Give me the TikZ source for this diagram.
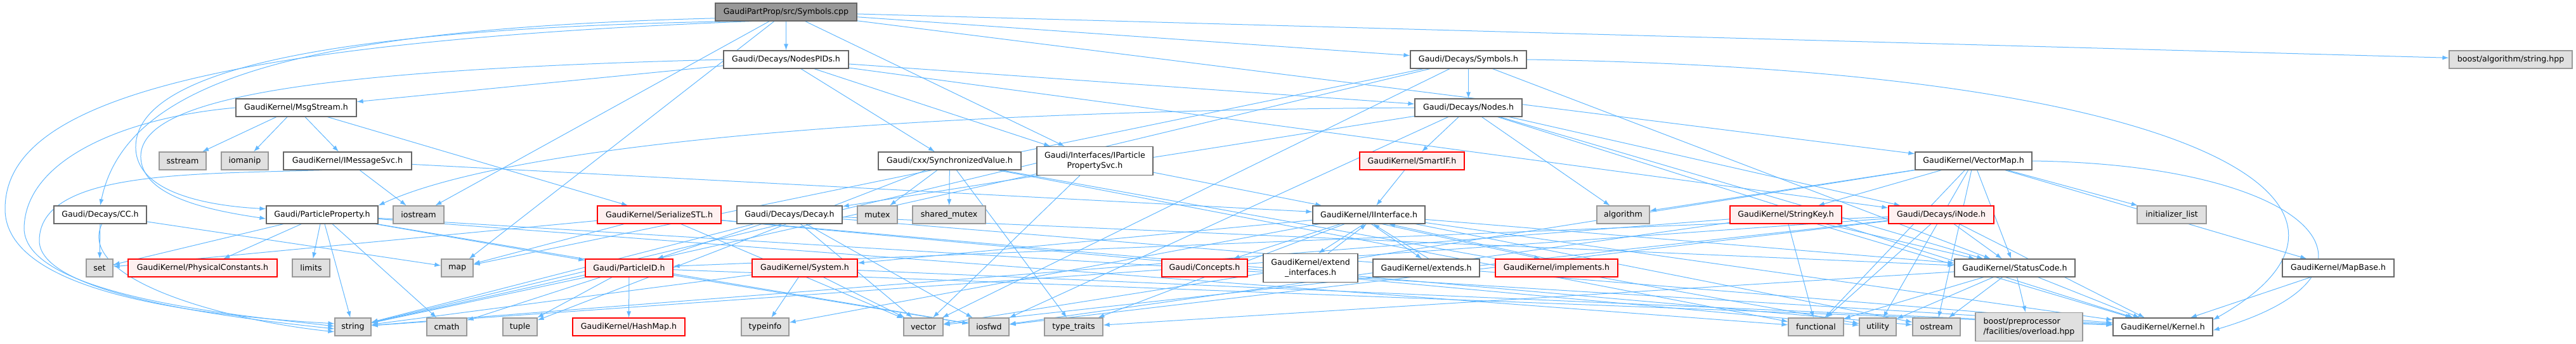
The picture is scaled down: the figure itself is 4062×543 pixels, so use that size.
\documentclass[tikz,border=0pt]{standalone}
\usepackage{fontspec}
\setmainfont{DejaVu Sans}
\usetikzlibrary{arrows.meta}
\definecolor{edgec}{HTML}{63B8FF}
\definecolor{nbord}{HTML}{666666}
\definecolor{sbord}{HTML}{999999}
\definecolor{sfill}{HTML}{E0E0E0}
\definecolor{rbord}{HTML}{FF0000}
\definecolor{rfill}{HTML}{FFF0F0}
\definecolor{rootfill}{HTML}{999999}
\pgfdeclarelayer{edgelayer}
\pgfsetlayers{edgelayer,main}
\tikzset{
  base/.style={line width=1.2pt, minimum height=28pt, inner sep=0pt, align=center,
    font=\fontsize{12.6}{16.5}\selectfont},
  nbox/.style={base, draw=nbord, fill=white},
  sbox/.style={base, draw=sbord, fill=sfill},
  rbox/.style={base, draw=rbord, fill=rfill},
  rootbox/.style={base, draw=nbord, fill=rootfill},
  twol/.style={minimum height=45pt},
  e/.style={draw=edgec, line width=1pt, -{Latex[length=10pt,width=7pt]}}
}
\begin{document}
\begin{tikzpicture}[x=1pt,y=-1pt]
\useasboundingbox (0,0) rectangle (4062,543);
% rank 0
\node[rootbox, minimum width=223] (cpp) at (1239.5,19) {GaudiPartProp/src/Symbols.cpp};
% rank 1
\node[nbox, minimum width=197] (nodespids) at (1239.5,94) {Gaudi/Decays/NodesPIDs.h};
\node[nbox, minimum width=183] (symh) at (2315.5,94) {Gaudi/Decays/Symbols.h};
\node[sbox, minimum width=194] (boost) at (3959,94) {boost/algorithm/string.hpp};
% rank 2
\node[nbox, minimum width=190] (msg) at (467,170) {GaudiKernel/MsgStream.h};
\node[nbox, minimum width=169] (nodes) at (2315.5,170) {Gaudi/Decays/Nodes.h};
% rank 3
\node[sbox, minimum width=74] (sstream) at (288,254) {sstream};
\node[sbox, minimum width=74] (iomanip) at (386,254) {iomanip};
\node[nbox, minimum width=202] (imsg) at (548,254) {GaudiKernel/IMessageSvc.h};
\node[nbox, minimum width=225] (sync) at (1497.5,254) {Gaudi/cxx/SynchronizedValue.h};
\node[nbox, twol, minimum width=183] (ipps) at (1726.5,254) {Gaudi/Interfaces/IParticle\\PropertySvc.h};
\node[rbox, minimum width=165] (smartif) at (2226.5,254) {GaudiKernel/SmartIF.h};
\node[nbox, minimum width=184] (vectormap) at (3112,254) {GaudiKernel/VectorMap.h};
% rank 4
\node[nbox, minimum width=146] (cc) at (158,339) {Gaudi/Decays/CC.h};
\node[nbox, minimum width=176] (pp) at (508,339) {Gaudi/ParticleProperty.h};
\node[sbox, minimum width=80] (iostream) at (660,339) {iostream};
\node[rbox, minimum width=195] (serial) at (1039.5,339) {GaudiKernel/SerializeSTL.h};
\node[nbox, minimum width=166] (decay) at (1245,339) {Gaudi/Decays/Decay.h};
\node[sbox, minimum width=63] (mutex) at (1383.5,339) {mutex};
\node[sbox, minimum width=115] (shmutex) at (1496.5,339) {shared\_mutex};
\node[nbox, minimum width=177] (iinterface) at (2158.5,339) {GaudiKernel/IInterface.h};
\node[sbox, minimum width=83] (algorithm) at (2559.5,339) {algorithm};
\node[rbox, minimum width=176] (stringkey) at (2816,339) {GaudiKernel/StringKey.h};
\node[rbox, minimum width=166] (inode) at (3061,339) {Gaudi/Decays/iNode.h};
\node[sbox, minimum width=109] (initlist) at (3424.5,339) {initializer\_list};
% rank 5
\node[sbox, minimum width=42] (set) at (157,423) {set};
\node[rbox, minimum width=235] (physconst) at (319.5,423) {GaudiKernel/PhysicalConstants.h};
\node[sbox, minimum width=59] (limits) at (490.5,423) {limits};
\node[sbox, minimum width=50] (map) at (721,423) {map};
\node[rbox, minimum width=138] (pid) at (992,423) {Gaudi/ParticleID.h};
\node[rbox, minimum width=166] (system) at (1269,423) {GaudiKernel/System.h};
\node[rbox, minimum width=135] (concepts) at (1899.5,423) {Gaudi/Concepts.h};
\node[nbox, twol, minimum width=149] (extendif) at (2066.5,423) {GaudiKernel/extend\\\_interfaces.h};
\node[nbox, minimum width=168] (extends) at (2249,423) {GaudiKernel/extends.h};
\node[rbox, minimum width=193] (implements) at (2454.5,423) {GaudiKernel/implements.h};
\node[nbox, minimum width=190] (statuscode) at (3177,423) {GaudiKernel/StatusCode.h};
\node[nbox, minimum width=176] (mapbase) at (3687,423) {GaudiKernel/MapBase.h};
% rank 6
\node[sbox, minimum width=57] (string) at (556.5,516) {string};
\node[sbox, minimum width=63] (cmath) at (704.5,516) {cmath};
\node[sbox, minimum width=54] (tuple) at (820,516) {tuple};
\node[rbox, minimum width=177] (hashmap) at (991.5,516) {GaudiKernel/HashMap.h};
\node[sbox, minimum width=75] (typeinfo) at (1206.5,516) {typeinfo};
\node[sbox, minimum width=62] (vector) at (1456,516) {vector};
\node[sbox, minimum width=63] (iosfwd) at (1559.5,516) {iosfwd};
\node[sbox, minimum width=92] (typetraits) at (1693,516) {type\_traits};
\node[sbox, minimum width=87] (functional) at (2863.5,516) {functional};
\node[sbox, minimum width=58] (utility) at (2961,516) {utility};
\node[sbox, minimum width=75] (ostream) at (3053.5,516) {ostream};
\node[sbox, twol, minimum width=169, align=left] (overload) at (3199.5,516) {boost/preprocessor\\/facilities/overload.hpp};
\node[nbox, minimum width=157] (kernel) at (3410.5,516) {GaudiKernel/Kernel.h};

\begin{pgfonlayer}{edgelayer}
% straight edges
\foreach \a/\b in {
  cpp/nodespids, cpp/symh, cpp/boost, cpp/ipps, cpp/iostream, cpp/map, cpp/vectormap,
  symh/nodes, symh/statuscode, symh/map, symh/string, symh/vector,
  nodespids/nodes, nodespids/ipps, nodespids/sync, nodespids/msg, nodespids/inode,
  nodes/smartif, nodes/algorithm, nodes/inode, nodes/decay, nodes/statuscode, nodes/kernel, nodes/iosfwd,
  msg/sstream, msg/iomanip, msg/imsg, msg/serial,
  imsg/iostream, imsg/iinterface,
  sync/mutex, sync/shmutex, sync/typetraits, sync/functional, sync/utility, sync/tuple,
  ipps/iinterface, ipps/vector, ipps/string,
  smartif/iinterface,
  vectormap/stringkey, vectormap/statuscode, vectormap/mapbase, vectormap/algorithm,
  vectormap/functional, vectormap/initlist, vectormap/ostream, vectormap/utility, vectormap/vector,
  cc/set, cc/map,
  pp/set, pp/physconst, pp/limits, pp/string, pp/cmath, pp/pid, pp/kernel, pp/iosfwd, pp/functional,
  serial/map, serial/set, serial/vector, serial/ostream, serial/utility,
  decay/pid, decay/vector, decay/string, decay/iosfwd, decay/statuscode, decay/kernel,
  iinterface/concepts, iinterface/system, iinterface/statuscode, iinterface/kernel,
  iinterface/ostream, iinterface/typeinfo, iinterface/typetraits,
  stringkey/string, stringkey/iosfwd, stringkey/functional, stringkey/kernel, stringkey/statuscode,
  inode/statuscode, inode/kernel, inode/functional, inode/pid, inode/string, inode/vector, inode/iosfwd,
  pid/hashmap, pid/string, pid/cmath, pid/tuple, pid/iosfwd, pid/kernel,
  system/typeinfo, system/vector, system/string, system/kernel,
  statuscode/overload, statuscode/kernel, statuscode/ostream, statuscode/utility, statuscode/functional, statuscode/typetraits,
  mapbase/kernel}
  \draw[e] (\a) -- (\b);
% curved edges on the left
\draw[e] (cpp.185) .. controls (500,45) and (200,120) .. (cc.north);
\draw[e] (cpp.190) .. controls (520,45) and (218,110) .. (214,230)
               .. controls (212,305) and (330,325) .. (pp.174);
\draw[e] (nodespids.west) .. controls (520,110) and (226,150) .. (222,245)
               .. controls (220,310) and (330,332) .. (pp.184);
\draw[e] (nodes.west) .. controls (1400,175) and (800,230) .. (pp.north east);
\draw[e] (cpp.195) .. controls (250,70) and (8,180) .. (8,330)
               .. controls (8,470) and (350,500) .. (string.170);
\draw[e] (msg.west) .. controls (200,185) and (40,250) .. (38,360)
               .. controls (38,470) and (400,500) .. (string.178);
\draw[e] (imsg.-160) .. controls (300,275) and (62,270) .. (62,380)
               .. controls (62,470) and (400,505) .. (string.186);
\draw[e] (cc.-80) .. controls (120,440) and (350,505) .. (string.195);
% curved edges on the right
\draw[e] (symh.east) .. controls (3500,110) and (3800,330) .. (kernel.8);
\draw[e] (vectormap.east) .. controls (3650,260) and (3800,430) .. (kernel.-4);
% two-way pairs
\draw[e] (iinterface.-118) -- (extendif.62);
\draw[e] (extendif.40) -- (iinterface.-104);
\draw[e] (iinterface.-75) -- (extends.115);
\draw[e] (extends.75) -- (iinterface.-65);
\draw[e] (iinterface.-35) -- (implements.150);
\draw[e] (implements.135) -- (iinterface.-25);
\end{pgfonlayer}
\end{tikzpicture}
\end{document}
